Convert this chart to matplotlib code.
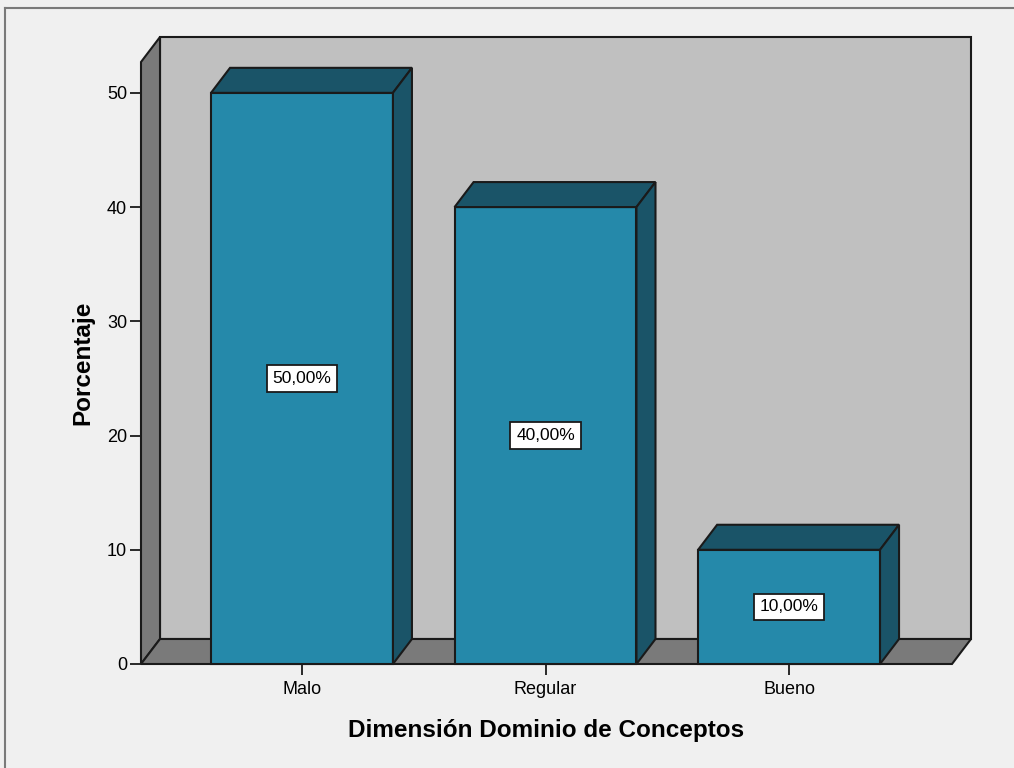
import matplotlib.pyplot as plt
from matplotlib.patches import Polygon
from matplotlib.lines import Line2D

plt.rcParams['font.family'] = ['Liberation Sans', 'DejaVu Sans']

categories = ["Malo", "Regular", "Bueno"]
percentages = [50.0, 40.0, 10.0]
bar_labels = ["50,00%", "40,00%", "10,00%"]
y_ticks = [0, 10, 20, 30, 40, 50]

FRONT = "#2589AA"
DARK = "#1A5468"
WALL = "#C0C0C0"
SIDE = "#7A7A7A"
EDGE = "#1a1a1a"
BG = "#F0F0F0"

fig = plt.figure(figsize=(10.14, 7.68), dpi=100, facecolor=BG)
ax = fig.add_axes([141 / 1014, 104 / 768, 811 / 1014, 602 / 768])
ax.set_facecolor("none")

x0, x1 = -0.661, 2.669
y0, y1 = 0, 52.7
ax.set_xlim(x0, x1)
ax.set_ylim(y0, y1)

# depth offset (data units)
dx = 19 / 243.5
dy = 25 / 11.42
bw = 0.747


def poly(pts, fc, z):
    ax.add_patch(Polygon(pts, closed=True, facecolor=fc, edgecolor=EDGE,
                         linewidth=1.5, clip_on=False, zorder=z))


# back wall, left wall, floor
poly([(x0 + dx, y0 + dy), (x1 + dx, y0 + dy), (x1 + dx, y1 + dy), (x0 + dx, y1 + dy)], WALL, 1)
poly([(x0, y0), (x0 + dx, y0 + dy), (x0 + dx, y1 + dy), (x0, y1)], SIDE, 2)
poly([(x0, y0), (x1, y0), (x1 + dx, y0 + dy), (x0 + dx, y0 + dy)], SIDE, 2)

for i, (val, lab) in enumerate(zip(percentages, bar_labels)):
    l, r = i - bw / 2, i + bw / 2
    poly([(l, 0), (r, 0), (r, val), (l, val)], FRONT, 3)
    poly([(l, val), (r, val), (r + dx, val + dy), (l + dx, val + dy)], DARK, 3)
    poly([(r, 0), (r + dx, dy), (r + dx, val + dy), (r, val)], DARK, 3)
    ax.text(i, val / 2, lab, ha="center", va="center", fontsize=12.5, zorder=5,
            bbox=dict(boxstyle="square,pad=0.33", facecolor="white",
                      edgecolor=EDGE, linewidth=1.3))

for s in ax.spines.values():
    s.set_visible(False)

ax.set_yticks(y_ticks)
ax.set_xticks(range(len(categories)))
ax.set_xticklabels(categories)
ax.tick_params(axis="both", length=8, width=1.3, color=EDGE, labelsize=13, pad=2)
ax.tick_params(axis="x", pad=4)

ax.set_ylabel("Porcentaje", fontsize=17.5, fontweight="bold", labelpad=9)
ax.set_xlabel("Dimensión Dominio de Conceptos", fontsize=17.5, fontweight="bold", labelpad=15)

# outer frame
fig.add_artist(Line2D([4.5 / 1014, 4.5 / 1014], [0, 1 - 7.5 / 768],
                      transform=fig.transFigure, color="#7a7a7a", linewidth=1.5))
fig.add_artist(Line2D([4.5 / 1014, 1], [1 - 7.5 / 768, 1 - 7.5 / 768],
                      transform=fig.transFigure, color="#7a7a7a", linewidth=1.5))

fig.savefig("out.png", dpi=100, facecolor=BG)
